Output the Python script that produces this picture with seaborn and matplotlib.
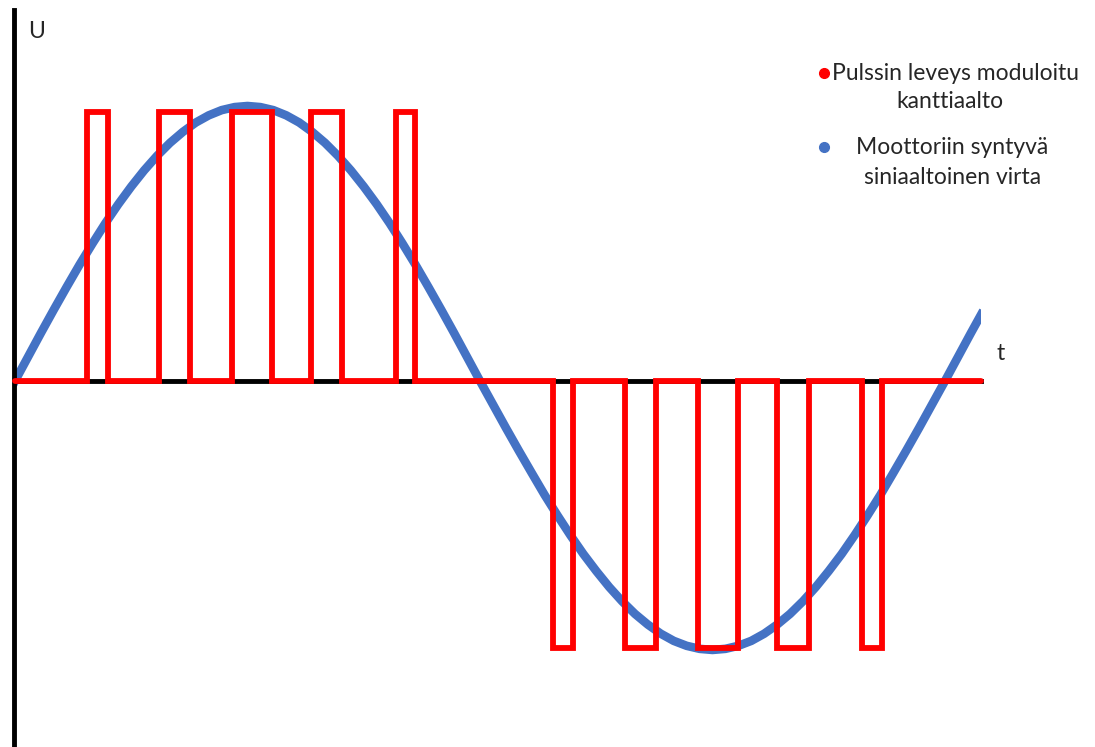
import matplotlib.pyplot as plt
from matplotlib.lines import Line2D
from matplotlib.patches import Rectangle
import seaborn as sns

# --- 1. DATA (t in electrical degrees, U relative to the sine peak) ---
kulma = list(range(0, 371, 5)) + [374]
virta = [0.0, 0.087, 0.174, 0.259, 0.342, 0.423, 0.5, 0.574, 0.643, 0.707, 0.766, 0.819,
         0.866, 0.906, 0.94, 0.966, 0.985, 0.996, 1.0, 0.996, 0.985, 0.966, 0.94, 0.906,
         0.866, 0.819, 0.766, 0.707, 0.643, 0.574, 0.5, 0.423, 0.342, 0.259, 0.174, 0.087,
         0.0,
         -0.085, -0.17, -0.253, -0.334, -0.414, -0.489, -0.561, -0.629, -0.691, -0.749,
         -0.801, -0.847, -0.886, -0.919, -0.945, -0.963, -0.974, -0.978, -0.974, -0.963,
         -0.945, -0.919, -0.886, -0.847, -0.801, -0.749, -0.691, -0.629, -0.561, -0.489,
         -0.414, -0.334, -0.253, -0.17, -0.085,
         0.0, 0.087, 0.174, 0.242]

# pulse edges (start, end)
pulssit_ylos = [27.9, 36.0, 55.7, 67.7, 84.0, 99.5, 114.6, 126.6, 147.5, 154.9]
pulssit_alas = [208.3, 216.0, 236.2, 248.2, 264.4, 279.9, 295.0, 307.4, 327.9, 335.7]
taso_ylos = 0.98
taso_alas = -0.972
t_loppu = 374

# --- 2. STEP SIGNAL FROM THE EDGES ---
t_pwm = [0]
u_pwm = [0]
for i in range(0, len(pulssit_ylos), 2):
    t_pwm += [pulssit_ylos[i], pulssit_ylos[i + 1]]
    u_pwm += [taso_ylos, 0]
for i in range(0, len(pulssit_alas), 2):
    t_pwm += [pulssit_alas[i], pulssit_alas[i + 1]]
    u_pwm += [taso_alas, 0]
t_pwm.append(t_loppu)
u_pwm.append(0)

# --- 3. FIGURE ---
sns.set_style("white")
plt.rcParams['font.family'] = ['Lato', 'DejaVu Sans']

W, H = 1095, 747
fig = plt.figure(figsize=(W / 100, H / 100), dpi=100)
ax = fig.add_axes([0, 0, 1, 1])

px_deg = 930 / 360      # pixels per degree
px_u = 275              # pixels per unit
x0, y0 = 15, 381        # origin in pixels
ax.set_xlim(-x0 / px_deg, (W - x0) / px_deg)
ax.set_ylim(-(H - y0) / px_u, y0 / px_u)

# sine current (cut vertically at both ends)
sns.lineplot(x=kulma, y=virta, ax=ax, color='#4472C4', linewidth=6.2,
             estimator=None, sort=False, zorder=2, solid_capstyle='projecting')
sinikayra = ax.lines[-1]
leikkaus = Rectangle((-1.5 / px_deg, -2), t_loppu + 1.5 / px_deg, 4,
                     transform=ax.transData, visible=False)
ax.add_patch(leikkaus)
sinikayra.set_clip_path(leikkaus)

# PWM square wave
sns.lineplot(x=t_pwm, y=u_pwm, ax=ax, color='#FF0000', linewidth=4.2,
             estimator=None, sort=False, drawstyle='steps-post', zorder=4,
             solid_joinstyle='miter')

# axes as thick black lines
for s in ['top', 'right']:
    ax.spines[s].set_visible(False)
ax.spines['left'].set_position(('data', -1.5 / px_deg))
ax.spines['left'].set_bounds(-(H - y0) / px_u, (y0 - 10) / px_u)
ax.spines['bottom'].set_position(('data', 0))
ax.spines['bottom'].set_bounds(0, t_loppu)
for s in ['left', 'bottom']:
    ax.spines[s].set_linewidth(3.5)
    ax.spines[s].set_color('black')
ax.set_xticks([])
ax.set_yticks([])

# axis names
fs = 16.5
fig.text(37 / W, 1 - 32 / H, 'U', ha='center', va='center', fontsize=fs)
fig.text(1001 / W, 1 - 354 / H, 't', ha='center', va='center', fontsize=fs)

# legend drawn by hand
fig.add_artist(Line2D([824 / W], [1 - 73 / H], marker='o', color='#FF0000',
                      markersize=7, linestyle='none'))
fig.add_artist(Line2D([824 / W], [1 - 147 / H], marker='o', color='#4472C4',
                      markersize=7, linestyle='none'))
fig.text(832 / W, 1 - 73 / H, 'Pulssin leveys moduloitu', ha='left', va='center', fontsize=fs)
fig.text(950 / W, 1 - 102 / H, 'kanttiaalto', ha='center', va='center', fontsize=fs)
fig.text(952 / W, 1 - 148 / H, 'Moottoriin syntyvä', ha='center', va='center', fontsize=fs)
fig.text(953 / W, 1 - 177 / H, 'siniaaltoinen virta', ha='center', va='center', fontsize=fs)

plt.savefig('out.png', dpi=100)
